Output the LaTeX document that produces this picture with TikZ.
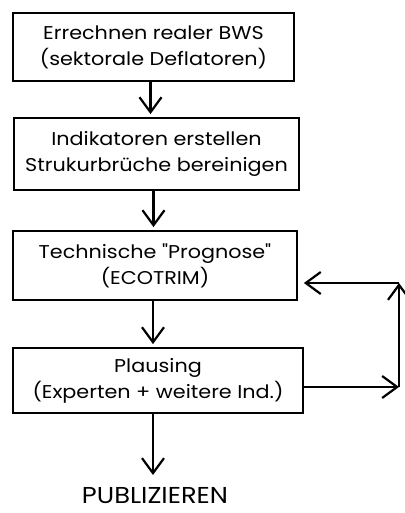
\documentclass[tikz,border=0pt]{standalone}
\usepackage{fontspec}
\setmainfont{Poppins}[Ligatures=TeXOff]
\newfontfamily\boxfont{Poppins}[Ligatures=TeXOff,FakeStretch=1.12]
\usetikzlibrary{arrows.meta}
\begin{document}
\begin{tikzpicture}[x=1pt,y=-1pt,
  box/.style={draw,line width=1.8pt,minimum width=#1,inner sep=0pt,align=center,font=\boxfont\fontsize{18.5}{26}\selectfont},
  arr/.style={line width=2.4pt,-{Straight Barb[length=15pt,width=22pt,line width=2.2pt]}},
  lbl/.style={font=\boxfont\fontsize{23}{28}\selectfont}]
\useasboundingbox (0,0) rectangle (404,513);
\node[box=281pt,minimum height=68pt] (b1) at (153.5,47) {Errechnen realer BWS\\(sektorale Deflatoren)};
\node[box=285pt,minimum height=72pt] (b2) at (156.5,154) {Indikatoren erstellen\\Strukurbrüche bereinigen};
\node[box=284pt,minimum height=69pt] (b3) at (155,265.5) {Technische "Prognose"\\(ECOTRIM)};
\node[box=290pt,minimum height=65pt] (b4) at (158,380.5) {Plausing\\(Experten + weitere Ind.)};
\node[lbl,anchor=base,inner sep=0pt] (pub) at (155,503) {PUBLIZIEREN};
\coordinate (fr1) at (399,387);
\coordinate (fr2) at (399,283);
\draw[arr,shorten >=3pt] ([xshift=-3pt]b1.south) -- ([xshift=-3pt]b1.south |- b2.north);
\draw[arr,shorten >=3pt] ([xshift=-3pt]b2.south) -- ([xshift=-3pt]b2.south |- b3.north);
\draw[arr,shorten >=3pt] ([xshift=-2pt]b3.south) -- ([xshift=-2pt]b3.south |- b4.north);
\draw[arr] ([xshift=-5pt]b4.south) -- ([xshift=-5pt]b4.south |- 0,475);
\draw[arr] ([yshift=-6.5pt]b4.east) -- (fr1);
\draw[arr] (fr1) -- (fr2);
\draw[arr] (fr2) -- ([xshift=6pt,yshift=-17.5pt]b3.east);
\end{tikzpicture}
\end{document}
